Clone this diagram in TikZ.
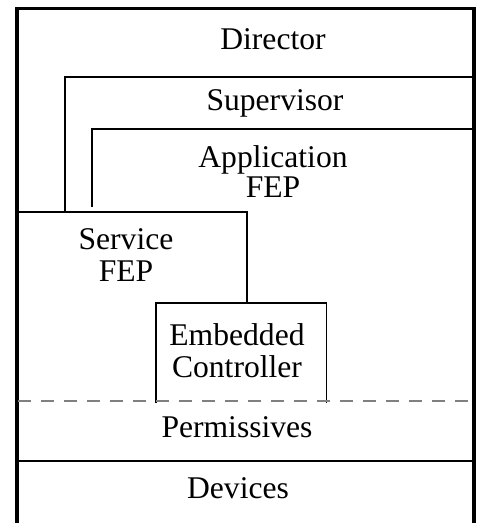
\documentclass[tikz,border=0pt]{standalone}
\usepackage{fontspec}
\setmainfont{Liberation Serif}
\begin{document}
\begin{tikzpicture}[x=1pt,y=-1pt,
  lbl/.style={inner sep=0pt, anchor=base, font=\fontsize{31.6}{32}\selectfont},
  frame/.style={line width=3.5pt, line cap=rect},
  thinline/.style={line width=1.6pt},
  dashline/.style={line width=1.6pt, draw=gray, dash pattern=on 13pt off 10pt}]
\useasboundingbox (0,0) rectangle (477,523);
% outer frame
\draw[frame] (17,523) -- (17,8.5) -- (474,8.5) -- (474,523);
% supervisor
\draw[thinline] (65,212) -- (65,77) -- (474,77);
% application
\draw[thinline] (92,207) -- (92,129) -- (474,129);
% service
\draw[thinline] (17,212) -- (247,212) -- (247,303);
% embedded
\draw[thinline] (156,403) -- (156,303) -- (326.5,303) -- (326.5,403);
% dashed
\draw[dashline] (18,401) -- (474,401);
% permissives / devices
\draw[thinline] (17,461) -- (474,461);
% labels
\node[lbl] (dir) at (273,49) {Director};
\node[lbl] (sup) at (275,110) {Supervisor};
\node[lbl] (app) at (273,167) {Application};
\node[lbl] (appfep) at (273,197) {FEP};
\node[lbl] (svc) at (126,249) {Service};
\node[lbl] (svcfep) at (126,281) {FEP};
\node[lbl] (emb) at (237,345) {Embedded};
\node[lbl] (ctl) at (237,377) {Controller};
\node[lbl] (per) at (237,437) {Permissives};
\node[lbl] (dev) at (238,498) {Devices};
\end{tikzpicture}
\end{document}
